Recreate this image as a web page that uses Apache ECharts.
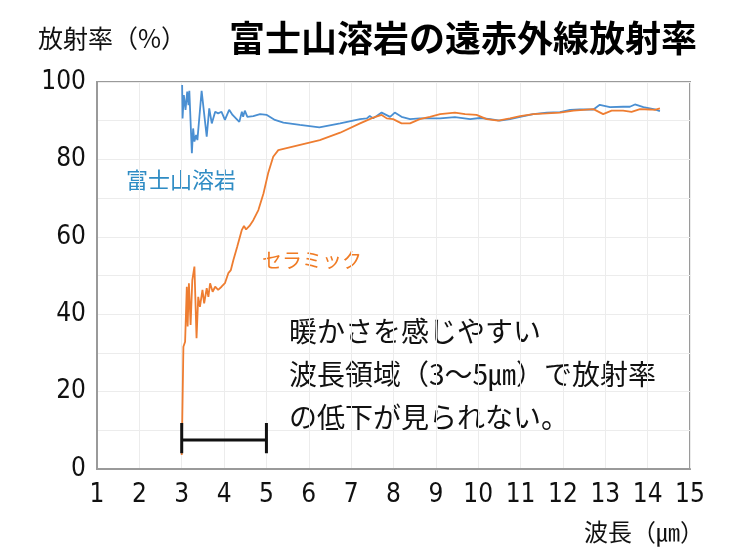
<!DOCTYPE html>
<html>
<head>
<meta charset="utf-8">
<script src="https://cdn.jsdelivr.net/npm/echarts@6/dist/echarts.min.js"></script>
<style>
  html, body { margin: 0; padding: 0; background: #fff; }
  #main { width: 741px; height: 550px; }
</style>
</head>
<body>
<div id="main"></div>
<script>
// 富士山溶岩 [波長, 放射率]
var lavaData = [
  [3.01, 99.2], [3.02, 90.6], [3.05, 96.6], [3.09, 92.8], [3.13, 97.5], [3.16, 94.0],
  [3.18, 97.7], [3.24, 81.6], [3.27, 88.0], [3.30, 84.6], [3.34, 86.3], [3.37, 85.0],
  [3.47, 97.7], [3.59, 85.9], [3.65, 93.2], [3.71, 89.3], [3.79, 92.3], [3.86, 91.9],
  [3.94, 92.3], [4.02, 90.2], [4.12, 92.8], [4.20, 91.5], [4.36, 89.7], [4.42, 92.3],
  [4.45, 91.0], [4.49, 92.6], [4.55, 91.0], [4.69, 91.2], [4.85, 91.7], [5.01, 91.5],
  [5.20, 90.2], [5.40, 89.5], [5.79, 88.9], [6.25, 88.3], [6.74, 89.3], [7.21, 90.4],
  [7.37, 90.6], [7.44, 91.2], [7.52, 90.6], [7.72, 92.1], [7.92, 91.0], [8.03, 92.1],
  [8.19, 91.0], [8.39, 90.4], [8.62, 90.6], [8.86, 90.6], [9.10, 90.6], [9.45, 90.9],
  [9.81, 90.4], [10.04, 90.7], [10.28, 90.4], [10.51, 90.0], [10.75, 90.4], [10.99, 91.0],
  [11.30, 91.7], [11.62, 92.1], [11.93, 92.2], [12.17, 92.8], [12.40, 92.9], [12.72, 92.9],
  [12.87, 94.1], [13.11, 93.5], [13.42, 93.6], [13.58, 93.6], [13.70, 94.2], [13.90, 93.5],
  [14.05, 93.2], [14.17, 92.9], [14.29, 92.5]
];

// セラミック [波長, 放射率]
var ceramicData = [
  [3.00, 3.6], [3.04, 31.6], [3.08, 32.9], [3.12, 47.1], [3.14, 36.8], [3.17, 48.0],
  [3.21, 37.2], [3.25, 48.8], [3.30, 52.3], [3.35, 33.8], [3.39, 44.5], [3.43, 41.9],
  [3.49, 46.3], [3.53, 42.8], [3.59, 46.7], [3.63, 44.5], [3.67, 48.0], [3.73, 45.8],
  [3.79, 47.1], [3.86, 46.3], [3.94, 47.1], [4.02, 48.0], [4.10, 50.6], [4.16, 51.4],
  [4.22, 54.0], [4.31, 57.4], [4.42, 61.8], [4.47, 62.8], [4.52, 61.9], [4.60, 62.8],
  [4.69, 64.3], [4.81, 66.9], [4.93, 71.2], [5.04, 76.4], [5.16, 80.7], [5.28, 82.4],
  [6.26, 85.0], [6.74, 86.9], [7.21, 89.3], [7.52, 90.8], [7.72, 91.5], [7.84, 90.6],
  [7.99, 90.4], [8.19, 89.3], [8.39, 89.3], [8.62, 90.4], [8.86, 91.0], [9.10, 91.7],
  [9.45, 92.1], [9.69, 91.7], [9.96, 91.5], [10.20, 90.4], [10.47, 90.0], [10.75, 90.6],
  [10.99, 91.2], [11.30, 91.7], [11.62, 91.9], [11.93, 92.1], [12.25, 92.6], [12.72, 93.0],
  [12.95, 91.7], [13.15, 92.6], [13.42, 92.6], [13.62, 92.3], [13.82, 93.0], [14.05, 92.9],
  [14.17, 92.8], [14.29, 93.2]
];

// 3〜5μm の範囲を示す括弧
var bracketLeft = [[3, 11.9], [3, 4.1]];
var bracketMid = [[3, 7.5], [5, 7.5]];
var bracketRight = [[5, 11.9], [5, 4.1]];

var xTicks = [1, 15, 1];   // min, max, interval
var yTicks = [0, 100, 10];
var noteLines = ['暖かさを感じやすい', '波長領域（3〜5㎛）で放射率', 'の低下が見られない。'];

var numFont = "'DejaVu Sans Condensed', 'Liberation Sans Narrow', sans-serif";
var jpFont = "'Noto Sans CJK JP', sans-serif";

var chart = echarts.init(document.getElementById('main'));

function bracketSeries(d) {
  return {
    type: 'line',
    data: d,
    symbol: 'none',
    silent: true,
    lineStyle: { color: '#111', width: 3 },
    z: 5
  };
}

var option = {
  animation: false,
  backgroundColor: '#fff',
  grid: {
    left: 97, right: 51, top: 82, bottom: 81,
    show: true, borderColor: '#9a9a9a', borderWidth: 2, backgroundColor: 'transparent'
  },
  xAxis: {
    type: 'value',
    min: xTicks[0], max: xTicks[1], interval: xTicks[2],
    axisLine: { show: true, lineStyle: { color: '#9a9a9a', width: 2 } },
    axisTick: { show: false },
    splitLine: { show: true, lineStyle: { color: '#ececec', width: 1 } },
    axisLabel: { color: '#111', fontSize: 26, fontFamily: numFont, margin: 13 }
  },
  yAxis: {
    type: 'value',
    min: yTicks[0], max: yTicks[1], interval: yTicks[2],
    axisLine: { show: true, lineStyle: { color: '#9a9a9a', width: 2 } },
    axisTick: { show: false },
    splitLine: { show: true, lineStyle: { color: '#ececec', width: 1 } },
    axisLabel: {
      color: '#111', fontSize: 26, fontFamily: numFont, margin: 11,
      formatter: function (v) { return v % 20 === 0 ? String(v) : ''; }
    }
  },
  series: [
    {
      name: '富士山溶岩',
      type: 'line',
      data: lavaData,
      symbol: 'none',
      lineStyle: { color: '#4a8fd2', width: 1.8 },
      z: 3
    },
    {
      name: 'セラミック',
      type: 'line',
      data: ceramicData,
      symbol: 'none',
      lineStyle: { color: '#ee7d31', width: 1.8 },
      z: 4
    },
    bracketSeries(bracketLeft),
    bracketSeries(bracketMid),
    bracketSeries(bracketRight)
  ],
  graphic: [
    {
      type: 'text', left: 38, top: 26,
      style: { text: '放射率（%）', fontSize: 25, fontFamily: jpFont, fill: '#111' }
    },
    {
      type: 'text', left: 229, top: 20,
      style: { text: '富士山溶岩の遠赤外線放射率', fontSize: 36, fontWeight: 'bold', fontFamily: jpFont, fill: '#000' }
    },
    {
      type: 'text', right: 37, top: 520,
      style: { text: '波長（㎛）', fontSize: 24, fontFamily: jpFont, fill: '#111' }
    },
    {
      type: 'text', left: 126, top: 169,
      style: { text: '富士山溶岩', fontSize: 22, fontFamily: jpFont, fill: '#2f8cc4' }
    },
    {
      type: 'text', left: 262, top: 250,
      style: { text: 'セラミック', fontSize: 20, fontFamily: jpFont, fill: '#f07b24' }
    },
    {
      type: 'text', left: 289, top: 310,
      style: { text: noteLines.join('\n'), fontSize: 28, lineHeight: 43, fontFamily: jpFont, fill: '#111' }
    }
  ]
};

chart.setOption(option);
</script>
</body>
</html>
